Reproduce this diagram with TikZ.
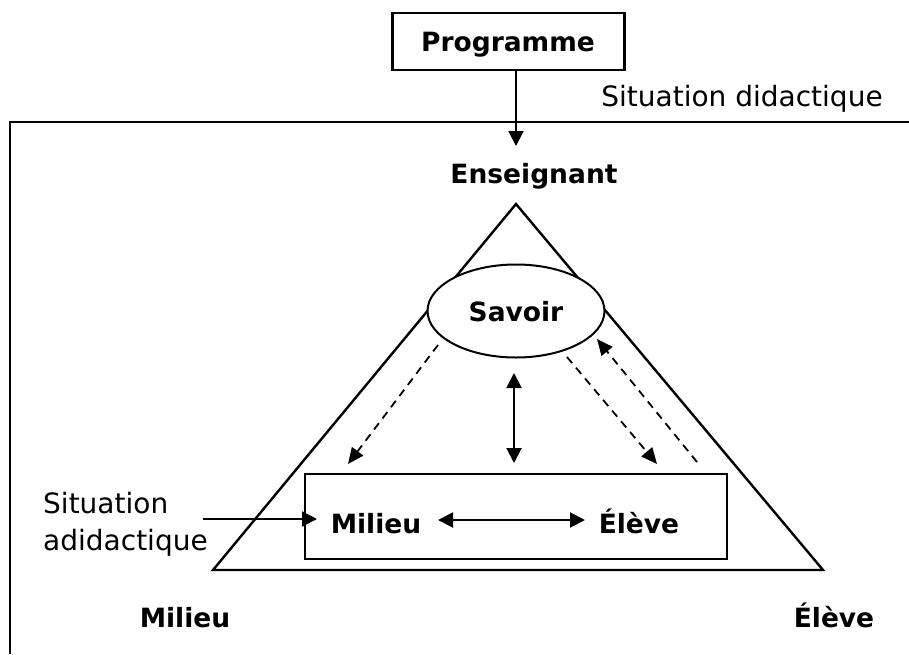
\documentclass[tikz,border=0pt]{standalone}
\usepackage{fontspec}
\setmainfont{DejaVu Sans}
\usetikzlibrary{arrows.meta,shapes.geometric}
\begin{document}
\begin{tikzpicture}[x=1pt,y=-1pt,
  lbl/.style={inner sep=0pt,font=\fontsize{28}{32}\selectfont},
  blbl/.style={lbl,font=\fontsize{26.5}{30}\selectfont\bfseries},
  solidline/.style={line width=2.4pt},
  arr/.style={line width=2pt,-{Triangle[length=15pt,width=15pt]}},
  darr/.style={line width=2pt,{Triangle[length=15pt,width=15pt]}-{Triangle[length=15pt,width=15pt]}},
  dasharr/.style={line width=1.8pt,dash pattern=on 8pt off 6pt,-{Triangle[length=16pt,width=14pt]}}]
\useasboundingbox (0,0) rectangle (909,654);
% frame
\coordinate (fr1) at (909,122);
\coordinate (fr2) at (10,122);
\coordinate (fr3) at (10,654);
\draw[solidline] (fr1) -- (fr2) -- (fr3);
% programme
\node[draw,solidline,minimum width=232pt,minimum height=57pt,inner sep=0pt] (prog) at (508.5,41.5) {};
\node[blbl,anchor=base] (progtxt) at (508,51) {Programme};
\coordinate (ptip) at (516,146);
\draw[arr] (prog.south -| ptip) -- (ptip);
\node[lbl,anchor=base] (sitdid) at (742,106) {Situation didactique};
\node[blbl,anchor=base] (ens) at (534,183) {Enseignant};
% triangle
\coordinate (A) at (516,204);
\coordinate (B) at (213,570);
\coordinate (C) at (823,570);
\draw[solidline,line join=miter] (A) -- (B) -- (C) -- cycle;
% savoir
\node[ellipse,draw,line width=2pt,fill=white,minimum width=177pt,minimum height=93pt,inner sep=0pt] (sav) at (516,311) {};
\node[blbl,anchor=base] (savtxt) at (516,321) {Savoir};
% inner box
\node[draw,solidline,fill=white,minimum width=422pt,minimum height=85pt,inner sep=0pt] (ibox) at (516,516.5) {};
\node[blbl,anchor=base] (mil) at (376,533) {Milieu};
\node[blbl,anchor=base] (elv) at (639,533) {Élève};
\coordinate (m1) at (438,520);
\coordinate (e1) at (585,520);
\draw[darr] (m1) -- (e1);
% vertical arrow
\coordinate (v1) at (514,373);
\coordinate (v2) at (514,463);
\draw[darr] (v1) -- (v2);
% dashed arrows
\coordinate (d1s) at (438,345);
\coordinate (d1e) at (348,464);
\draw[dasharr] (d1s) -- (d1e);
\coordinate (d2s) at (567,357);
\coordinate (d2e) at (657,464);
\draw[dasharr] (d2s) -- (d2e);
\coordinate (d3s) at (697,462);
\coordinate (d3e) at (597,339);
\draw[dasharr] (d3s) -- (d3e);
% situation adidactique
\node[lbl,anchor=base west] (sad1) at (43,513) {Situation};
\node[lbl,anchor=base west] (sad2) at (43,550) {adidactique};
\coordinate (sa1) at (203,519);
\coordinate (sa2) at (317,519);
\draw[arr] (sa1) -- (sa2);
% bottom labels
\node[blbl,anchor=base] (bmil) at (185,627) {Milieu};
\node[blbl,anchor=base] (belv) at (834,627) {Élève};
\end{tikzpicture}
\end{document}
